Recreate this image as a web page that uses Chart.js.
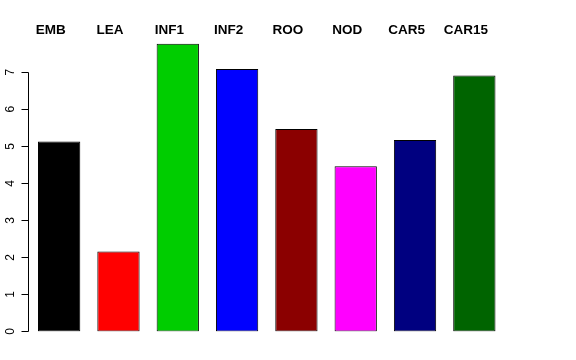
<!DOCTYPE html>
<html>
<head>
<meta charset="utf-8">
<script src="https://cdn.jsdelivr.net/npm/chart.js@4/dist/chart.umd.min.js"></script>
<style>
  html, body { margin: 0; padding: 0; background: #fff; }
  #wrap { width: 576px; height: 360px; }
</style>
</head>
<body>
<div id="wrap"><canvas id="chart" width="576" height="360"></canvas></div>
<script>
// --- DATA ---
const groups = ["EMB", "LEA", "INF1", "INF2", "ROO", "NOD", "CAR5", "CAR15"];
const values = [5.13, 2.16, 7.77, 7.09, 5.47, 4.46, 5.17, 6.91];
const barColors = ["#000000", "#FF0000", "#00CD00", "#0000FF", "#8B0000", "#FF00FF", "#000080", "#006400"];
const yTicks = [0, 1, 2, 3, 4, 5, 6, 7];

const FONT = "'Liberation Sans', Arial, sans-serif";

// R style y axis: line from first to last tick, outward tick marks, rotated labels
const rAxis = {
  id: "rAxis",
  afterDraw(chart) {
    const ctx = chart.ctx;
    const y = chart.scales.y;
    const x0 = 28.5;
    const snap = p => Math.round(p - 0.5) + 0.5;
    ctx.save();
    ctx.strokeStyle = "#000";
    ctx.lineWidth = 1;
    ctx.beginPath();
    ctx.moveTo(x0, snap(y.getPixelForValue(yTicks[0])));
    ctx.lineTo(x0, snap(y.getPixelForValue(yTicks[yTicks.length - 1])));
    yTicks.forEach(v => {
      const py = snap(y.getPixelForValue(v));
      ctx.moveTo(x0, py);
      ctx.lineTo(x0 - 7, py);
    });
    ctx.stroke();

    ctx.fillStyle = "#000";
    ctx.font = "12px " + FONT;
    ctx.textAlign = "center";
    ctx.textBaseline = "alphabetic";
    yTicks.forEach(v => {
      ctx.save();
      ctx.translate(14, y.getPixelForValue(v));
      ctx.rotate(-Math.PI / 2);
      ctx.fillText(String(v), 0, 0);
      ctx.restore();
    });
    ctx.restore();
  }
};

new Chart(document.getElementById("chart"), {
  type: "bar",
  data: {
    labels: groups,
    datasets: [{
      data: values,
      backgroundColor: barColors,
      borderColor: "#000",
      borderWidth: 1,
      borderSkipped: false,
      barPercentage: 0.713,
      categoryPercentage: 1
    }]
  },
  options: {
    responsive: false,
    animation: false,
    layout: { padding: { top: 0, left: 0, right: 72, bottom: 28.5 } },
    plugins: { legend: { display: false }, tooltip: { enabled: false } },
    scales: {
      x: {
        position: "top",
        grid: { display: false },
        border: { display: false },
        ticks: {
          color: "#000",
          font: { family: FONT, size: 13.5, weight: "bold" },
          padding: -6,
          labelOffset: -8.5,
          maxRotation: 0,
          autoSkip: false
        },
        afterFit(scale) { scale.height = 40; }
      },
      y: {
        min: 0,
        max: 7.87,
        grid: { display: false },
        border: { display: false },
        ticks: { display: false, stepSize: 1, includeBounds: false },
        afterFit(scale) { scale.width = 29.5; }
      }
    }
  },
  plugins: [rAxis]
});
</script>
</body>
</html>
